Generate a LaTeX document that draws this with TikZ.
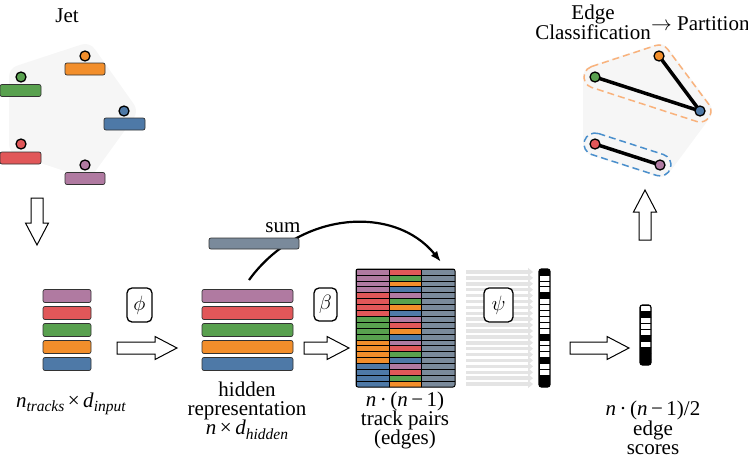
\documentclass[tikz,border=0pt]{standalone}
\usepackage{fontspec}
\setmainfont{Liberation Serif}
\usetikzlibrary{arrows.meta,calc}
\definecolor{cP}{HTML}{B07AA1}
\definecolor{cR}{HTML}{E15759}
\definecolor{cG}{HTML}{59A14F}
\definecolor{cO}{HTML}{F28E2B}
\definecolor{cB}{HTML}{4E79A7}
\definecolor{cS}{HTML}{7A8A9B}
\definecolor{hullgray}{HTML}{F6F6F6}
\definecolor{arrowgray}{HTML}{E4E4E4}
\definecolor{dashO}{HTML}{F9B27C}
\definecolor{dashB}{HTML}{4A8FCC}
\newcommand\HArrowR[3]{\draw[blk] (#1,#3-6) -- (#2-22,#3-6) -- (#2-22,#3-11.5) -- (#2,#3) -- (#2-22,#3+11.5) -- (#2-22,#3+6) -- (#1,#3+6) -- cycle;}
\newcommand\lowsub[1]{\raisebox{-4.5pt}{\fontsize{15.5}{15.5}\selectfont\textit{#1}}}
\tikzset{
  bar/.style={draw=black!80, line width=0.7pt, rounded corners=2pt, inner sep=0pt, minimum height=12pt},
  dot/.style={circle, draw=black, line width=1.3pt, minimum size=10pt, inner sep=0pt},
  opbox/.style={draw, line width=1.3pt, rounded corners=5pt, fill=white, inner sep=0pt, font=\fontsize{20}{20}\selectfont},
  lbl/.style={align=center, inner sep=0pt, font=\fontsize{21}{19.3}\selectfont},
  blk/.style={draw=black, line width=1pt, fill=white},
  cell/.style={draw=black, line width=0.6pt},
  frame/.style={draw=black, line width=1pt, rounded corners=2pt, inner sep=0pt},
  partedge/.style={line width=3.5pt, black},
}
\begin{document}
\begin{tikzpicture}[x=1pt,y=-1pt]
\useasboundingbox (0,0) rectangle (748,461);

% ---------- Jet ----------
\node[lbl] (jettitle) at (67,16) {Jet};
\coordinate (hO) at (85,56);
\coordinate (hG) at (21,77);
\coordinate (hB) at (124,111);
\coordinate (hR) at (21,144);
\coordinate (hP) at (85,165);
\filldraw[hullgray, line width=24pt, line join=round] (hG) -- (hO) -- (hB) -- (hP) -- (hR) -- cycle;
\node[bar, fill=cO, minimum width=40pt] (jbO) at (85,69) {};
\node[bar, fill=cG, minimum width=41pt] (jbG) at (20.5,90.5) {};
\node[bar, fill=cB, minimum width=41pt] (jbB) at (124.5,124) {};
\node[bar, fill=cR, minimum width=41pt] (jbR) at (20.5,158) {};
\node[bar, fill=cP, minimum width=40pt] (jbP) at (85,178.5) {};
\node[dot, fill=cO] (jdO) at (hO) {};
\node[dot, fill=cG] (jdG) at (hG) {};
\node[dot, fill=cB] (jdB) at (hB) {};
\node[dot, fill=cR] (jdR) at (hR) {};
\node[dot, fill=cP] (jdP) at (hP) {};

% down arrow
\draw[blk] (31,198) -- (31,223) -- (25.5,223) -- (37,245) -- (48.5,223) -- (43,223) -- (43,198) -- cycle;

% ---------- input stack ----------
\foreach \c/\y [count=\i] in {cP/296,cR/313,cG/330,cO/347,cB/364}
  \node[bar, fill=\c, minimum width=48pt, minimum height=13pt] (in\i) at (67,\y) {};
\node[lbl] (inlabel) at (71,404) {\textit{n}\lowsub{tracks}\,×\,\textit{d}\lowsub{input}};

\node[opbox, minimum width=25pt, minimum height=34pt] (phi) at (139.5,305) {$\phi$};
\HArrowR{117}{177}{348}

% ---------- hidden stack ----------
\coordinate (cs) at (249,280);
\coordinate (ce) at (441,262);
\draw[line width=2.2pt, -{Latex[length=11pt,width=8pt]}] (cs) .. controls (300,210) and (395,205) .. (ce);
\node[bar, fill=cS, minimum width=90pt, minimum height=11pt] (sumbar) at (254,243.5) {};
\node[lbl, anchor=base] (sumlabel) at (283,232) {sum};

\foreach \c/\y [count=\i] in {cP/296,cR/313,cG/330,cO/347,cB/364}
  \node[bar, fill=\c, minimum width=91pt, minimum height=13pt] (hid\i) at (247.5,\y) {};
\node[lbl] (hidlabel) at (247,410.5) {hidden\\representation\\\textit{n}\,×\,\textit{d}\lowsub{hidden}};

\node[opbox, minimum width=23pt, minimum height=33pt] (beta) at (325.5,304.5) {$\beta$};
\HArrowR{304}{349}{348}

% ---------- pair matrix ----------
\begin{scope}
\clip[rounded corners=2pt] (356,269) rectangle (455,387);
\foreach \a/\b [count=\i from 0] in {cP/cR,cP/cG,cP/cO,cP/cB,cR/cP,cR/cG,cR/cO,cR/cB,cG/cP,cG/cR,cG/cO,cG/cB,cO/cP,cO/cR,cO/cG,cO/cB,cB/cP,cB/cR,cB/cG,cB/cO}{
  \pgfmathsetmacro\yt{269+5.9*\i}
  \filldraw[cell, fill=\a] (356,\yt) rectangle (389,\yt+5.9);
  \filldraw[cell, fill=\b] (389,\yt) rectangle (421,\yt+5.9);
  \filldraw[cell, fill=cS] (421,\yt) rectangle (455,\yt+5.9);
}
\end{scope}
\node[frame, minimum width=99pt, minimum height=118pt] (pairs) at (405.5,328) {};
\node[lbl] (pairlabel) at (405,420.5) {\textit{n}\,·\,(\textit{n}\,−\,1)\\track pairs\\(edges)};

% grey arrows
\foreach \i in {0,...,19}{
  \pgfmathsetmacro\yc{269+5.9*\i+2.95}
  \coordinate (ga\i) at (466,\yc);
  \coordinate (gb\i) at (533,\yc);
  \draw[arrowgray, line width=3.5pt, -{Triangle[length=5pt,width=8pt]}] (ga\i) -- (gb\i);
}
\node[opbox, minimum width=29pt, minimum height=34pt] (psi) at (498.5,305) {$\psi$};

% score column
\begin{scope}
\clip[rounded corners=2.5pt] (539,269) rectangle (550,387);
\foreach \f [count=\i from 0] in {black,white,white,white,black,white,white,white,white,white,white,black,white,white,white,black,white,white,black,black}{
  \pgfmathsetmacro\yt{269+5.9*\i}
  \filldraw[cell, fill=\f] (539,\yt) rectangle (550,\yt+5.9);
}
\end{scope}
\node[frame, line width=1.2pt, rounded corners=2.5pt, minimum width=11pt, minimum height=118pt] (scores) at (544.5,328) {};

\HArrowR{570}{629}{348}

% final scores
\begin{scope}
\clip[rounded corners=2.5pt] (640,305) rectangle (651,365);
\foreach \f [count=\i from 0] in {white,black,white,white,white,black,white,black,black,black}{
  \pgfmathsetmacro\yt{305+6*\i}
  \filldraw[cell, fill=\f] (640,\yt) rectangle (651,\yt+6);
}
\end{scope}
\node[frame, line width=1.2pt, rounded corners=2.5pt, minimum width=11pt, minimum height=60pt] (final) at (645.5,335) {};
\node[lbl] (finallabel) at (653,428) {\textit{n}\,·\,(\textit{n}\,−\,1)/2\\edge\\scores};

% up arrow
\draw[blk] (639,240) -- (639,212) -- (633.5,212) -- (645,190) -- (656.5,212) -- (651,212) -- (651,240) -- cycle;

% ---------- partition ----------
\node[lbl] (edgetitle) at (593,22) {Edge\\Classification};
\node[lbl, anchor=west] (parttitle) at (651,24) {$\rightarrow$ Partition};
\coordinate (qO) at (659,56);
\coordinate (qG) at (595,77);
\coordinate (qB) at (700,111);
\coordinate (qR) at (595,144);
\coordinate (qP) at (660,165);
\filldraw[hullgray, line width=24pt, line join=round] (qG) -- (qO) -- (qB) -- (qP) -- (qR) -- cycle;
\draw[dashO, line width=1.5pt, dash pattern=on 7pt off 4pt]
  (591.57,66.55) -- (655.57,45.55) arc[start angle=108.2, end angle=36.7, radius=11pt]
  -- (708.82,104.42) arc[start angle=36.7, end angle=-107.9, radius=11pt]
  -- (591.61,87.46) arc[start angle=-107.9, end angle=-251.8, radius=11pt] -- cycle;
\draw[dashB, line width=1.5pt, dash pattern=on 7pt off 4pt]
  (598.4,133.5) -- (663.4,154.5) arc[start angle=72.1, end angle=-107.9, radius=11pt]
  -- (591.6,154.5) arc[start angle=-107.9, end angle=-287.9, radius=11pt] -- cycle;
\draw[partedge] (qG) -- (qB);
\draw[partedge] (qO) -- (qB);
\draw[partedge] (qR) -- (qP);
\node[dot, fill=cO] (pdO) at (qO) {};
\node[dot, fill=cG] (pdG) at (qG) {};
\node[dot, fill=cB] (pdB) at (qB) {};
\node[dot, fill=cR] (pdR) at (qR) {};
\node[dot, fill=cP] (pdP) at (qP) {};
\end{tikzpicture}
\end{document}
